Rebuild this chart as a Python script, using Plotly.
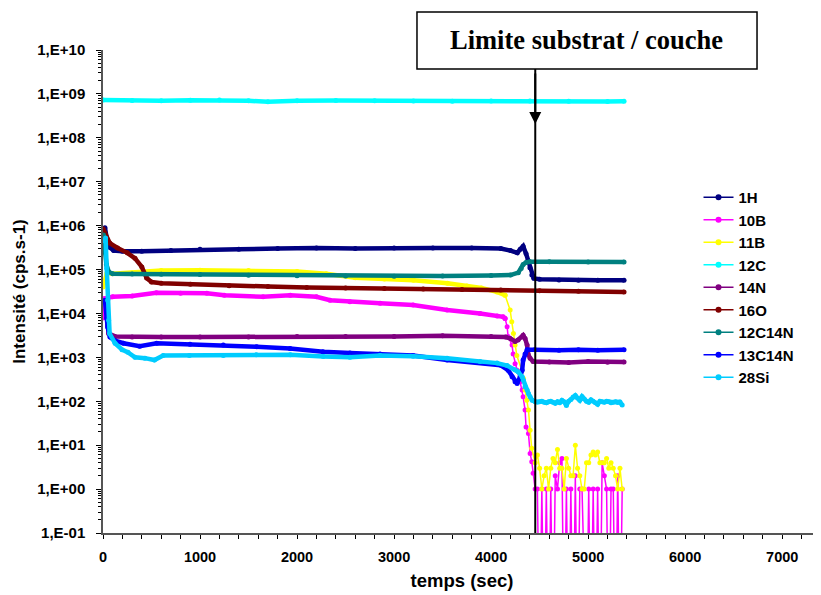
import plotly.graph_objects as go

# ---------------- data ----------------
series_names = ["1H", "10B", "11B", "12C", "14N", "16O", "12C14N", "13C14N", "28Si"]
series_colors = ["#000080", "#FF00FF", "#FFFF00", "#00FFFF", "#800080",
                 "#800000", "#008080", "#0000FF", "#00CCFF"]

BOUNDARY_T = 4455  # sec, substrate / layer interface

t_tail = [4454, 4477, 4500, 4523, 4546, 4569, 4592, 4615, 4638, 4661,
          4684, 4707, 4730, 4753, 4776, 4799, 4822, 4845, 4868, 4891,
          4914, 4937, 4960, 4983, 5006, 5029, 5052, 5075, 5098, 5121,
          5144, 5167, 5190, 5213, 5236, 5259, 5282, 5305, 5328, 5351]

t_1H = [0, 20, 40, 70, 110, 200, 400, 700, 1000, 1400, 1800, 2200, 2600, 3000,
        3400, 3800, 4100, 4200, 4270, 4300, 4330, 4360, 4380, 4400, 4420, 4440,
        4500, 4700, 4900, 5100, 5370]
v_1H = [7.5e5, 8.9e5, 5.0e5, 3.2e5, 2.7e5, 2.6e5, 2.6e5, 2.7e5, 2.9e5, 2.9e5,
        3.0e5, 3.1e5, 3.0e5, 3.1e5, 3.1e5, 3.1e5, 3.0e5, 2.7e5, 2.4e5, 2.9e5,
        3.4e5, 2.3e5, 1.6e5, 1.1e5, 7.5e4, 6.3e4, 6.0e4, 5.8e4, 5.7e4, 5.7e4, 5.7e4]

t_10B = [0, 20, 100, 300, 550, 800, 1070, 1250, 1650, 1930, 2200, 2340, 2545,
         2856, 3196, 3546, 3887, 4062, 4124, 4144, 4165, 4175, 4216, 4227, 4247,
         4268, 4299, 4320, 4330, 4350, 4360, 4385, 4402, 4419, 4433]
v_10B = [7.9e3, 2.2e4, 2.4e4, 2.5e4, 2.95e4, 2.9e4, 2.9e4, 2.6e4, 2.4e4, 2.6e4,
         2.4e4, 2.0e4, 1.85e4, 1.7e4, 1.55e4, 1.2e4, 1.0e4, 8.7e3, 8.4e3, 7.7e3,
         5.0e3, 3.0e3, 1.9e3, 1.2e3, 720, 510, 280, 180, 126, 63, 26, 18.5, 6.5,
         4.2, 2.3]
v_10B_tail = [1, 1, 0, 1, 0, 1, 0, 1, 0, 2, 1, 4, 5, 0, 1, 0, 1, 0, 2, 0,
              1, 1, 0, 0, 1, 0, 1, 0, 1, 0, 4, 2, 1, 0, 1, 1, 0, 2, 0, 1]

t_11B = [0, 40, 100, 300, 600, 1000, 1500, 2000, 2300, 2600, 2900, 3200, 3550,
         3750, 3900, 4060, 4144, 4196, 4213, 4230, 4247, 4265, 4316, 4333, 4350,
         4368, 4385, 4402, 4419]
v_11B = [4.0e4, 8.3e4, 8.0e4, 8.5e4, 9.5e4, 9.7e4, 9.5e4, 9.0e4, 8.0e4, 6.5e4,
         6.1e4, 5.7e4, 4.9e4, 4.2e4, 3.8e4, 3.1e4, 2.6e4, 1.2e4, 6.5e3, 3.5e3,
         1.9e3, 1.1e3, 510, 330, 180, 106, 63, 22, 8.5]
v_11B_tail = [4, 6, 3, 1, 2, 3, 1, 3, 5, 4, 8, 3, 3, 1, 5, 3, 2, 2, 10, 3,
              2, 1, 1, 4, 4, 6, 7, 6, 7, 4, 4, 4, 5, 3, 4, 3, 2, 1, 3, 1]

t_12C = [0, 300, 600, 900, 1200, 1500, 1700, 2000, 2400, 2800, 3200, 3600, 4000,
         4400, 4800, 5200, 5370]
v_12C = [7.3e8, 7.1e8, 7.0e8, 7.2e8, 7.3e8, 7.0e8, 6.6e8, 7.0e8, 7.1e8, 7.0e8,
         6.9e8, 6.8e8, 6.9e8, 6.9e8, 6.8e8, 6.7e8, 6.8e8]

t_14N = [38, 48, 58, 124, 300, 600, 1000, 1500, 2000, 2500, 3000, 3500, 4000,
         4150, 4196, 4247, 4278, 4320, 4330, 4350, 4371, 4381, 4402, 4433, 4600,
         4800, 5000, 5200, 5370]
v_14N = [1.07e4, 5.5e3, 3.5e3, 3.0e3, 2.9e3, 2.9e3, 2.9e3, 2.9e3, 3.0e3, 3.0e3,
         3.0e3, 3.1e3, 3.0e3, 2.9e3, 2.7e3, 2.3e3, 2.5e3, 2.9e3, 3.2e3, 2.7e3,
         1.9e3, 1.2e3, 950, 800, 780, 760, 800, 770, 780]

t_16O = [0, 20, 70, 150, 250, 330, 400, 450, 500, 600, 900, 1300, 1700, 2100,
         2500, 2900, 3300, 3700, 4100, 4500, 4900, 5370]
v_16O = [8.5e5, 6.8e5, 4.0e5, 3.1e5, 2.4e5, 1.8e5, 1.15e5, 6.4e4, 5.2e4, 4.9e4,
         4.6e4, 4.3e4, 4.1e4, 3.9e4, 3.8e4, 3.7e4, 3.6e4, 3.5e4, 3.4e4, 3.3e4,
         3.2e4, 3.1e4]

t_12C14N = [5, 20, 35, 60, 100, 300, 600, 1000, 1500, 2000, 2500, 3000, 3500,
            4000, 4200, 4280, 4310, 4330, 4360, 4400, 4600, 5000, 5370]
v_12C14N = [6.1e5, 2.5e5, 1.3e5, 8.8e4, 8.0e4, 7.9e4, 7.8e4, 7.7e4, 7.4e4, 7.2e4,
            7.1e4, 7.0e4, 7.1e4, 7.3e4, 7.5e4, 8.5e4, 1.05e5, 1.3e5, 1.45e5, 1.5e5,
            1.5e5, 1.48e5, 1.48e5]

t_13C14N = [20, 38, 48, 72, 124, 210, 378, 553, 897, 1240, 1584, 1928, 2268, 2545,
            2856, 3196, 3546, 3887, 4100, 4175, 4216, 4247, 4268, 4299, 4320, 4330,
            4350, 4371, 4450, 4700, 4900, 5100, 5370]
v_13C14N = [2.0e4, 7.9e3, 4.9e3, 2.9e3, 2.4e3, 2.1e3, 1.8e3, 2.1e3, 2.0e3, 1.9e3,
            1.75e3, 1.6e3, 1.35e3, 1.25e3, 1.2e3, 1.1e3, 870, 760, 660, 510, 360,
            280, 255, 360, 510, 870, 1.2e3, 1.5e3, 1.5e3, 1.45e3, 1.5e3, 1.45e3, 1.5e3]

t_28Si = [15, 27, 38, 48, 58, 68, 124, 196, 258, 330, 433, 530, 620, 890, 1240,
          1580, 1930, 2270, 2545, 2856, 3196, 3546, 3887, 4062, 4165, 4247, 4278,
          4320, 4333, 4350, 4371, 4385, 4402, 4423]
v_28Si = [4.5e5, 5.2e5, 1.07e5, 2.0e4, 7.0e3, 3.5e3, 2.1e3, 1.5e3, 1.3e3, 1.0e3,
          960, 870, 1.1e3, 1.1e3, 1.1e3, 1.15e3, 1.15e3, 1.05e3, 1.0e3, 1.1e3,
          1.06e3, 950, 800, 740, 650, 520, 470, 360, 300, 215, 180, 150, 126, 106]
v_28Si_tail = [98, 95, 97, 100, 95, 92, 97, 100, 95, 90, 98, 93, 105, 97, 80,
               100, 110, 125, 135, 118, 105, 128, 112, 100, 95, 108, 100, 92, 85,
               100, 97, 95, 100, 98, 92, 95, 97, 94, 96, 82]

y_tick_vals = [1e-1, 1e0, 1e1, 1e2, 1e3, 1e4, 1e5, 1e6, 1e7, 1e8, 1e9, 1e10]
y_tick_text = ["1,E-01", "1,E+00", "1,E+01", "1,E+02", "1,E+03", "1,E+04",
               "1,E+05", "1,E+06", "1,E+07", "1,E+08", "1,E+09", "1,E+10"]
x_tick_vals = [0, 1000, 2000, 3000, 4000, 5000, 6000, 7000]

# ---------------- assemble ----------------
ZERO_FLOOR = 1e-4  # zero counts cannot sit on a log axis: drawn below the axis floor
DROP_START = 4144  # where the boron signals start falling (drawn with thin lines)

main_data = {
    "1H": (t_1H, v_1H, None),
    "10B": (t_10B, v_10B, v_10B_tail),
    "11B": (t_11B, v_11B, v_11B_tail),
    "12C": (t_12C, v_12C, None),
    "14N": (t_14N, v_14N, None),
    "16O": (t_16O, v_16O, None),
    "12C14N": (t_12C14N, v_12C14N, None),
    "13C14N": (t_13C14N, v_13C14N, None),
    "28Si": (t_28Si + t_tail, v_28Si + v_28Si_tail, None),
}

FONT = "Liberation Sans"
fig = go.Figure()

for name, color in zip(series_names, series_colors):
    t, v, tail = main_data[name]
    if tail is None:
        thick_t, thick_v, thin_t, thin_v = t, v, [], []
    else:
        k = t.index(DROP_START)
        thick_t, thick_v = t[:k + 1], v[:k + 1]
        thin_t = t[k:] + t_tail
        thin_v = v[k:] + [val if val > 0 else ZERO_FLOOR for val in tail]
    fig.add_trace(go.Scatter(
        x=thick_t, y=thick_v, mode="lines+markers", name=name, legendgroup=name,
        showlegend=False, line=dict(color=color, width=4.5),
        marker=dict(color=color, size=5)))
    if thin_t:
        fig.add_trace(go.Scatter(
            x=thin_t, y=thin_v, mode="lines+markers", name=name, legendgroup=name,
            showlegend=False, line=dict(color=color, width=1.5),
            marker=dict(color=color, size=5)))

# legend entries (thin line + dot, as in the original)
for name, color in zip(series_names, series_colors):
    fig.add_trace(go.Scatter(
        x=[None], y=[None], mode="lines+markers", name=name, legendgroup=name,
        showlegend=True, line=dict(color=color, width=1.5),
        marker=dict(color=color, size=6)))

# box + boundary line + arrow
fig.add_shape(type="line", xref="x", yref="paper", x0=BOUNDARY_T, x1=BOUNDARY_T,
              y0=0, y1=0.9607, line=dict(color="black", width=2))
fig.add_shape(type="rect", xref="paper", yref="paper", x0=0.4373, x1=0.9109,
              y0=0.9607, y1=1.0787, line=dict(color="black", width=1.5),
              fillcolor="white")
fig.add_annotation(xref="paper", yref="paper", x=0.674, y=1.0197,
                   xanchor="center", yanchor="middle",
                   text="Limite substrat / couche", showarrow=False,
                   font=dict(family="Liberation Serif", size=26.5, color="black",
                             weight="bold"))
fig.add_annotation(xref="x", yref="paper", x=BOUNDARY_T, y=0.847, text="",
                   showarrow=True, ax=0, ay=-52, arrowhead=2, arrowsize=1.2,
                   arrowwidth=2, arrowcolor="black")

# the page body adds an 8 px offset: figure is sized so the plot lands where the original is
fig.update_layout(
    width=813, height=587,
    margin=dict(l=95, r=0, t=42, b=62),
    plot_bgcolor="white", paper_bgcolor="white",
    font=dict(family=FONT, color="black"),
    legend=dict(x=0.8294, y=0.729, xanchor="left", yanchor="top",
                font=dict(family=FONT, size=15, weight="bold"),
                itemwidth=30, tracegroupgap=0, bgcolor="rgba(0,0,0,0)"),
    xaxis=dict(range=[0, 7400], tickvals=x_tick_vals, ticks="outside", ticklen=4,
               tickcolor="black", showline=True, linecolor="#555", linewidth=1.5,
               showgrid=False, zeroline=False, ticklabelstandoff=6,
               minor=dict(dtick=200, ticks="outside", ticklen=4, tickcolor="black"),
               tickfont=dict(family=FONT, size=14.5, weight="bold"),
               title=dict(text="temps (sec)", standoff=10,
                          font=dict(family=FONT, size=18.5, weight="bold"))),
    yaxis=dict(type="log", range=[-1, 10], tickvals=y_tick_vals,
               ticktext=y_tick_text, ticks="outside", ticklen=5,
               tickcolor="black", showline=True, linecolor="#555", linewidth=1.5,
               showgrid=False, zeroline=False, ticklabelstandoff=8,
               minor=dict(tickvals=[k * 10.0 ** n for n in range(-1, 10)
                                    for k in range(2, 10)],
                          ticks="outside", ticklen=3, tickcolor="black"),
               tickfont=dict(family=FONT, size=15, weight="bold"),
               title=dict(text="Intensité (cps.s-1)", standoff=7,
                          font=dict(family=FONT, size=17, weight="bold"))),
)

fig.write_html("out.html")
